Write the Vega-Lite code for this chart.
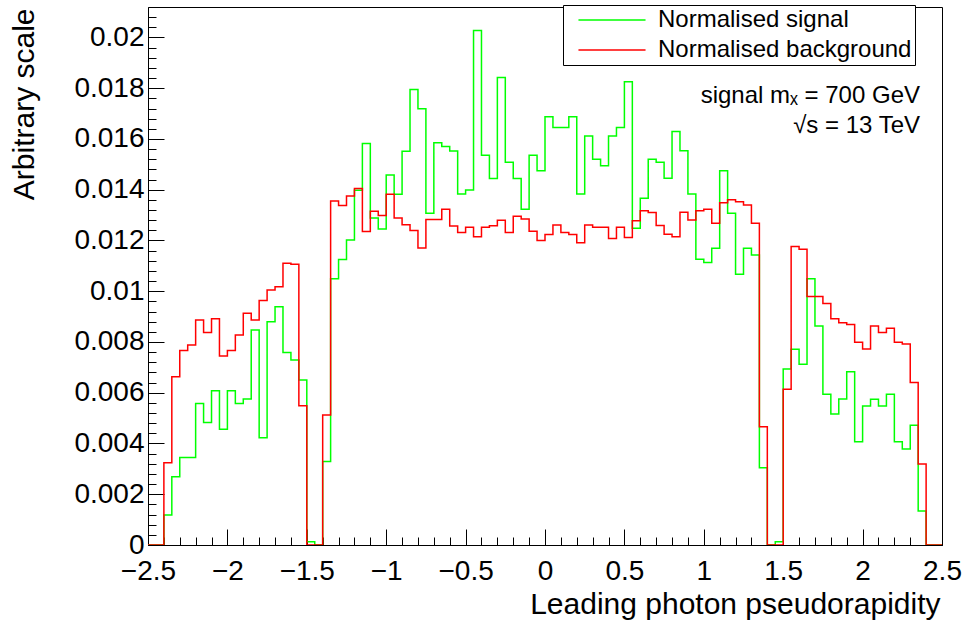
{
  "$schema": "https://vega.github.io/schema/vega-lite/v6.json",
  "width": 794,
  "height": 538,
  "autosize": {"type": "none"},
  "padding": {"left": 148, "top": 7, "right": 23, "bottom": 77},
  "background": "white",
  "config": {
    "view": {"stroke": "black", "strokeWidth": 1},
    "axis": {
      "domainColor": "black", "tickColor": "black", "labelColor": "black", "titleColor": "black",
      "labelFont": "Liberation Sans", "titleFont": "Liberation Sans",
      "labelFontSize": 28, "titleFontSize": 30, "titleFontWeight": "normal",
      "grid": false, "domainWidth": 1, "tickWidth": 1, "labelOverlap": false, "labelFlush": false, "labelBound": false
    },
    "legend": {
      "orient": "none", "legendX": 415, "legendY": -2, "direction": "vertical",
      "symbolType": "M-3,0H3", "symbolSize": 500, "symbolStrokeWidth": 1.5,
      "labelFont": "Liberation Sans", "labelFontSize": 24, "labelColor": "black",
      "strokeColor": "black", "fillColor": "white", "padding": 3, "rowPadding": 6,
      "symbolOffset": 34, "labelOffset": 34, "labelLimit": 500
    },
    "text": {"font": "Liberation Sans"}
  },
  "datasets": {
    "hist": [
      {"eta": -2.5, "signal": 0, "background": 0},
      {"eta": -2.45, "signal": 0, "background": 0},
      {"eta": -2.4, "signal": 0.00118, "background": 0.00324},
      {"eta": -2.35, "signal": 0.00269, "background": 0.00663},
      {"eta": -2.3, "signal": 0.00345, "background": 0.00766},
      {"eta": -2.25, "signal": 0.00345, "background": 0.00788},
      {"eta": -2.2, "signal": 0.00558, "background": 0.00887},
      {"eta": -2.15, "signal": 0.00483, "background": 0.00837},
      {"eta": -2.1, "signal": 0.00608, "background": 0.00892},
      {"eta": -2.05, "signal": 0.00456, "background": 0.00745},
      {"eta": -2.0, "signal": 0.00608, "background": 0.00766},
      {"eta": -1.95, "signal": 0.00558, "background": 0.00828},
      {"eta": -1.9, "signal": 0.00575, "background": 0.00913},
      {"eta": -1.85, "signal": 0.00847, "background": 0.00887},
      {"eta": -1.8, "signal": 0.00423, "background": 0.00963},
      {"eta": -1.75, "signal": 0.0088, "background": 0.01005},
      {"eta": -1.7, "signal": 0.00939, "background": 0.01018},
      {"eta": -1.65, "signal": 0.00759, "background": 0.0111},
      {"eta": -1.6, "signal": 0.00729, "background": 0.01106},
      {"eta": -1.55, "signal": 0.0065, "background": 0.00549},
      {"eta": -1.5, "signal": 0.00013, "background": 0},
      {"eta": -1.45, "signal": 0, "background": 0},
      {"eta": -1.4, "signal": 0.00329, "background": 0.00512},
      {"eta": -1.35, "signal": 0.01049, "background": 0.01356},
      {"eta": -1.3, "signal": 0.01125, "background": 0.01338},
      {"eta": -1.25, "signal": 0.01202, "background": 0.01375},
      {"eta": -1.2, "signal": 0.01398, "background": 0.01405},
      {"eta": -1.15, "signal": 0.01582, "background": 0.01235},
      {"eta": -1.1, "signal": 0.01289, "background": 0.01315},
      {"eta": -1.05, "signal": 0.01245, "background": 0.01298},
      {"eta": -1.0, "signal": 0.01458, "background": 0.01382},
      {"eta": -0.95, "signal": 0.01382, "background": 0.01289},
      {"eta": -0.9, "signal": 0.01552, "background": 0.01262},
      {"eta": -0.85, "signal": 0.01795, "background": 0.01239},
      {"eta": -0.8, "signal": 0.01719, "background": 0.0117},
      {"eta": -0.75, "signal": 0.01307, "background": 0.01283},
      {"eta": -0.7, "signal": 0.01585, "background": 0.01283},
      {"eta": -0.65, "signal": 0.0157, "background": 0.01323},
      {"eta": -0.6, "signal": 0.01553, "background": 0.01257},
      {"eta": -0.55, "signal": 0.01383, "background": 0.01231},
      {"eta": -0.5, "signal": 0.01399, "background": 0.01252},
      {"eta": -0.45, "signal": 0.02027, "background": 0.01215},
      {"eta": -0.4, "signal": 0.01536, "background": 0.01252},
      {"eta": -0.35, "signal": 0.01444, "background": 0.01258},
      {"eta": -0.3, "signal": 0.01842, "background": 0.0128},
      {"eta": -0.25, "signal": 0.01508, "background": 0.01231},
      {"eta": -0.2, "signal": 0.01444, "background": 0.01295},
      {"eta": -0.15, "signal": 0.01323, "background": 0.01285},
      {"eta": -0.1, "signal": 0.01536, "background": 0.01236},
      {"eta": -0.05, "signal": 0.01475, "background": 0.012},
      {"eta": 0.0, "signal": 0.01688, "background": 0.01224},
      {"eta": 0.05, "signal": 0.01645, "background": 0.01261},
      {"eta": 0.1, "signal": 0.01645, "background": 0.01231},
      {"eta": 0.15, "signal": 0.01688, "background": 0.01224},
      {"eta": 0.2, "signal": 0.01383, "background": 0.01191},
      {"eta": 0.25, "signal": 0.01612, "background": 0.01261},
      {"eta": 0.3, "signal": 0.0152, "background": 0.01252},
      {"eta": 0.35, "signal": 0.01494, "background": 0.01252},
      {"eta": 0.4, "signal": 0.01612, "background": 0.01208},
      {"eta": 0.45, "signal": 0.01645, "background": 0.01252},
      {"eta": 0.5, "signal": 0.01825, "background": 0.01212},
      {"eta": 0.55, "signal": 0.01248, "background": 0.01278},
      {"eta": 0.6, "signal": 0.01366, "background": 0.01317},
      {"eta": 0.65, "signal": 0.0152, "background": 0.0131},
      {"eta": 0.7, "signal": 0.01508, "background": 0.01259},
      {"eta": 0.75, "signal": 0.01445, "background": 0.01225},
      {"eta": 0.8, "signal": 0.01629, "background": 0.01215},
      {"eta": 0.85, "signal": 0.01554, "background": 0.01311},
      {"eta": 0.9, "signal": 0.01383, "background": 0.01281},
      {"eta": 0.95, "signal": 0.01126, "background": 0.01317},
      {"eta": 1.0, "signal": 0.01113, "background": 0.01323},
      {"eta": 1.05, "signal": 0.01169, "background": 0.01268},
      {"eta": 1.1, "signal": 0.01475, "background": 0.01349},
      {"eta": 1.15, "signal": 0.01307, "background": 0.0136},
      {"eta": 1.2, "signal": 0.01067, "background": 0.01353},
      {"eta": 1.25, "signal": 0.01169, "background": 0.0134},
      {"eta": 1.3, "signal": 0.01143, "background": 0.01268},
      {"eta": 1.35, "signal": 0.00304, "background": 0.00466},
      {"eta": 1.4, "signal": 0, "background": 0},
      {"eta": 1.45, "signal": 0.00013, "background": 0},
      {"eta": 1.5, "signal": 0.00694, "background": 0.00614},
      {"eta": 1.55, "signal": 0.00771, "background": 0.01176},
      {"eta": 1.6, "signal": 0.00712, "background": 0.01165},
      {"eta": 1.65, "signal": 0.01049, "background": 0.00979},
      {"eta": 1.7, "signal": 0.00863, "background": 0.00979},
      {"eta": 1.75, "signal": 0.00594, "background": 0.00952},
      {"eta": 1.8, "signal": 0.00516, "background": 0.00892},
      {"eta": 1.85, "signal": 0.00575, "background": 0.00876},
      {"eta": 1.9, "signal": 0.00683, "background": 0.00869},
      {"eta": 1.95, "signal": 0.00407, "background": 0.00799},
      {"eta": 2.0, "signal": 0.00548, "background": 0.00772},
      {"eta": 2.05, "signal": 0.00574, "background": 0.00863},
      {"eta": 2.1, "signal": 0.00548, "background": 0.00837},
      {"eta": 2.15, "signal": 0.00594, "background": 0.00854},
      {"eta": 2.2, "signal": 0.00407, "background": 0.00799},
      {"eta": 2.25, "signal": 0.00378, "background": 0.00792},
      {"eta": 2.3, "signal": 0.00472, "background": 0.0064},
      {"eta": 2.35, "signal": 0.00134, "background": 0.00319},
      {"eta": 2.4, "signal": 0, "background": 0},
      {"eta": 2.45, "signal": 0, "background": 0},
      {"eta": 2.5, "signal": 0, "background": 0}
    ],
    "notes": [
      {"eta": 2.3615, "value": 0.01742, "label": "signal mₓ = 700 GeV"},
      {"eta": 2.3615, "value": 0.01624, "label": "√s = 13 TeV"}
    ]
  },
  "layer": [
    {
      "data": {"name": "hist"},
      "transform": [{"fold": ["signal", "background"], "as": ["series", "value"]}],
      "mark": {"type": "line", "interpolate": "step-after", "strokeWidth": 1.5, "clip": true},
      "encoding": {
        "x": {
          "field": "eta", "type": "quantitative",
          "scale": {"domain": [-2.5, 2.5], "nice": false, "zero": false},
          "axis": {
            "title": "Leading photon pseudorapidity",
            "values": [-2.5,-2.4,-2.3,-2.2,-2.1,-2,-1.9,-1.8,-1.7,-1.6,-1.5,-1.4,-1.3,-1.2,-1.1,-1,-0.9,-0.8,-0.7,-0.6,-0.5,-0.4,-0.3,-0.2,-0.1,0,0.1,0.2,0.3,0.4,0.5,0.6,0.7,0.8,0.9,1,1.1,1.2,1.3,1.4,1.5,1.6,1.7,1.8,1.9,2,2.1,2.2,2.3,2.4,2.5],
            "tickCount": 200,
            "labelExpr": "abs(datum.value*2 - round(datum.value*2)) < 0.01 ? format(datum.value, '~g') : ''",
            "tickSize": {"condition": {"test": "abs(datum.value*2 - round(datum.value*2)) < 0.01", "value": -16}, "value": -8},
            "labelOverlap": false, "labelFlush": false, "labelBound": false,
            "labelPadding": 28,
            "titleAnchor": "end", "titleAlign": "right", "titleBaseline": "alphabetic",
            "titleX": 792, "titleY": 68
          }
        },
        "y": {
          "field": "value", "type": "quantitative",
          "scale": {"domain": [0, 0.0212], "nice": false},
          "axis": {
            "title": "Arbitrary scale",
            "values": [0,0.0004,0.0008,0.0012,0.0016,0.002,0.0024,0.0028,0.0032,0.0036,0.004,0.0044,0.0048,0.0052,0.0056,0.006,0.0064,0.0068,0.0072,0.0076,0.008,0.0084,0.0088,0.0092,0.0096,0.01,0.0104,0.0108,0.0112,0.0116,0.012,0.0124,0.0128,0.0132,0.0136,0.014,0.0144,0.0148,0.0152,0.0156,0.016,0.0164,0.0168,0.0172,0.0176,0.018,0.0184,0.0188,0.0192,0.0196,0.02,0.0204,0.0208],
            "tickCount": 200,
            "labelExpr": "abs(datum.value*500 - round(datum.value*500)) < 0.01 ? format(datum.value, '~g') : ''",
            "tickSize": {"condition": {"test": "abs(datum.value*500 - round(datum.value*500)) < 0.01", "value": -16}, "value": -8},
            "labelOverlap": false, "labelBound": false,
            "labelPadding": 20,
            "titleAnchor": "end", "titleAlign": "right", "titleBaseline": "alphabetic", "titleAngle": -90,
            "titleX": -115, "titleY": 1
          }
        },
        "color": {
          "field": "series", "type": "nominal",
          "scale": {"domain": ["signal", "background"], "range": ["#00ff00", "#ff0000"]},
          "legend": {
            "title": null,
            "labelExpr": "datum.label == 'signal' ? 'Normalised signal' : 'Normalised background\u00a0\u00a0\u00a0'"
          }
        }
      }
    },
    {
      "data": {"name": "notes"},
      "mark": {"type": "text", "align": "right", "baseline": "alphabetic", "fontSize": 24, "color": "black"},
      "encoding": {
        "x": {"field": "eta", "type": "quantitative"},
        "y": {"field": "value", "type": "quantitative"},
        "text": {"field": "label"}
      }
    }
  ]
}
